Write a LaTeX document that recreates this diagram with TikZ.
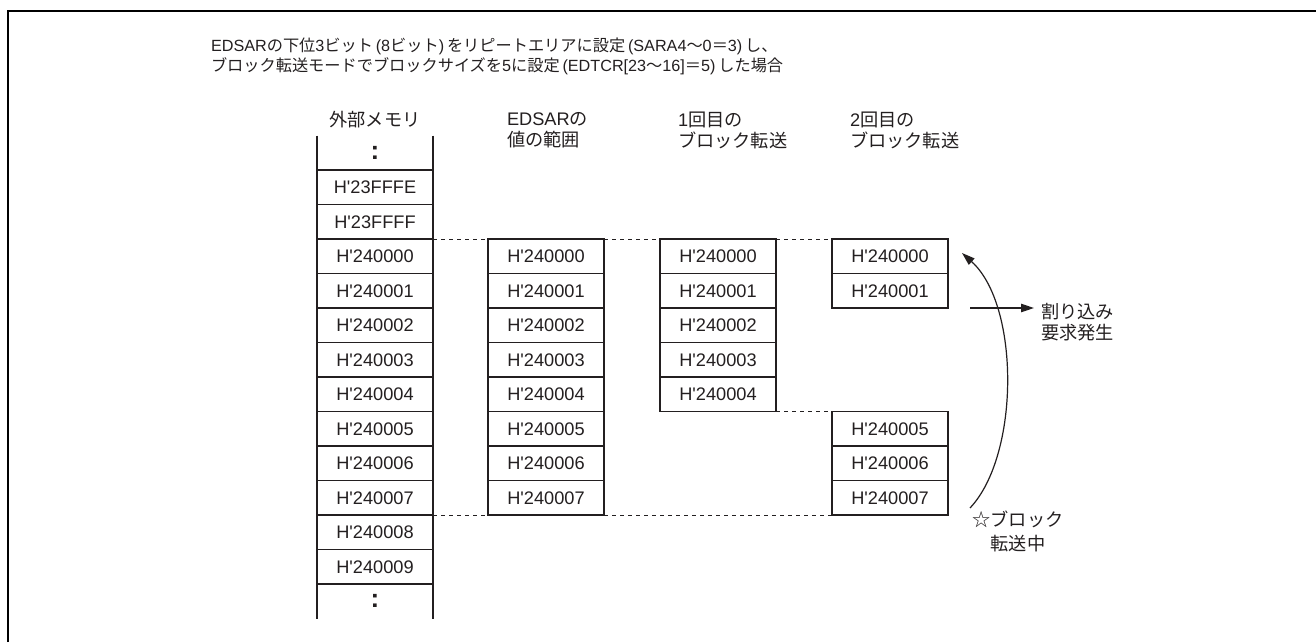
\documentclass[tikz,border=0pt]{standalone}
\usepackage{fontspec}
\setmainfont{Liberation Sans}[Ligatures=TeXOff]
\newfontfamily\jp{Noto Sans CJK JP}
\usetikzlibrary{arrows.meta}
\definecolor{ink}{HTML}{231F20}
\newcommand{\lp}{\hspace{1.4pt}(}
\newcommand{\rp}{)\hspace{1.4pt}}
\begin{document}
\begin{tikzpicture}[x=0.5pt,y=-0.5pt,
  every node/.style={font=\fontsize{9.1}{10.5}\selectfont, text=ink, inner sep=0pt, outer sep=0pt},
  cell/.style={draw=ink, line width=0.8pt, minimum width=58pt, minimum height=17.25pt},
  opencell/.style={minimum width=58pt, minimum height=17.25pt, font=\fontsize{13}{13}\selectfont\bfseries},
  side/.style={draw=ink, line width=0.8pt},
  guide/.style={draw=ink, line width=0.5pt, dash pattern=on 2.2pt off 1.8pt},
  arr/.style={draw=ink, line width=0.6pt, -{Triangle[length=6.5pt,width=4.2pt]}},
  frame/.style={draw=black, line width=1pt},
  titletext/.style={font=\fontsize{8.1}{10}\selectfont}
]
\useasboundingbox (0,0) rectangle (1316,642);
\draw[frame] (7.5,642) -- (7.5,11) -- (1316,11);

% title
\node[titletext, anchor=west, align=left] (title) at (211,56.5) {EDSAR{\jp の下位}3{\jp ビット}\lp 8{\jp ビット}\rp{\jp をリピートエリアに設定}\lp SARA4{\jp ～}0{\jp ＝}3\rp{\jp し、}\\{\jp ブロック転送モードでブロックサイズを}5{\jp に設定}\lp EDTCR[23{\jp ～}16]{\jp ＝}5\rp{\jp した場合}};

% headers
\node (h1) at (375,120) {\jp 外部メモリ};
\node[anchor=west, align=left] (h2) at (507,130) {EDSAR{\jp の}\\{\jp 値の範囲}};
\node[anchor=west, align=left] (h3) at (678,130) {1{\jp 回目の}\\{\jp ブロック転送}};
\node[anchor=west, align=left] (h4) at (850,130) {2{\jp 回目の}\\{\jp ブロック転送}};

% external memory column
\node[opencell] (mt) at (375,152.75) {:};
\node[cell] (mfe) at (375,187.25) {H'23FFFE};
\node[cell] (mff) at (375,221.75) {H'23FFFF};
\foreach \i in {0,...,9} {\node[cell] (m\i) at (375,{256.25+34.5*\i}) {H'24000\i};}
\node[opencell] (mb) at (375,601.25) {:};
\draw[side] (mt.north west) -- (mb.south west);
\draw[side] (mt.north east) -- (mb.south east);

% EDSAR range column
\foreach \i in {0,...,7} {\node[cell] (e\i) at (546,{256.25+34.5*\i}) {H'24000\i};}
% first block transfer
\foreach \i in {0,...,4} {\node[cell] (f\i) at (718,{256.25+34.5*\i}) {H'24000\i};}
% second block transfer
\foreach \i in {0,1,5,6,7} {\node[cell] (s\i) at (890,{256.25+34.5*\i}) {H'24000\i};}

% dashed guides
\draw[guide] (m0.north east) -- (e0.north west);
\draw[guide] (e0.north east) -- (f0.north west);
\draw[guide] (f0.north east) -- (s0.north west);
\draw[guide] (f4.south east) -- (s5.north west);
\draw[guide] (m7.south east) -- (e7.south west);
\draw[guide] (e7.south east) -- (s7.south west);

% right side
\node[anchor=west, align=left] (intr) at (1041,322.5) {{\jp 割り込み}\\{\jp 要求発生}};
\coordinate (ia) at (970,308);
\coordinate (ib) at (1034,308);
\draw[arr] (ia) -- (ib);

\node[align=center] (busy) at (1018,531) {{\jp ☆ブロック}\\[1.5pt]{\jp 転送中}};
\coordinate (cs) at (970,508);
\coordinate (ce) at (962,253);
\draw[arr] (cs) .. controls (1020,455) and (1020,305) .. (ce);
\end{tikzpicture}
\end{document}
